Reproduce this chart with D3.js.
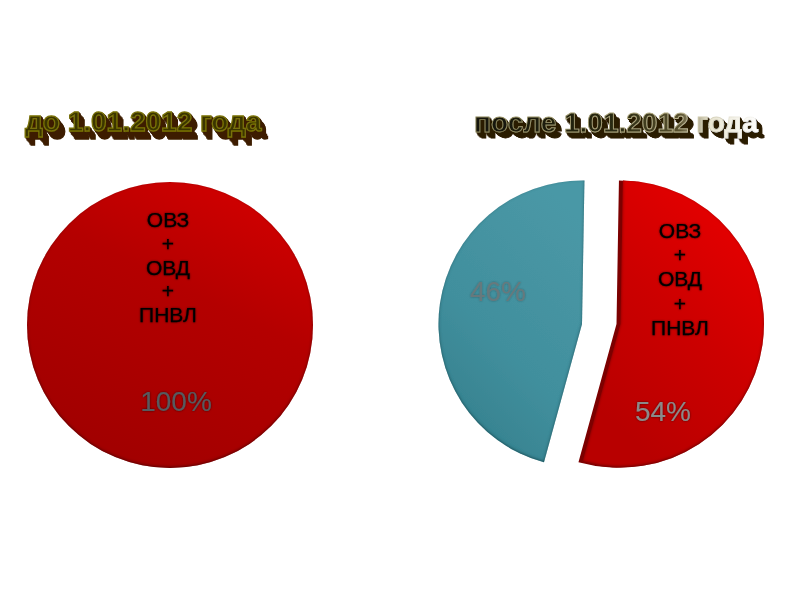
<!DOCTYPE html>
<html><head><meta charset="utf-8">
<script src="https://cdn.jsdelivr.net/npm/d3@7"></script>
<style>html,body{margin:0;background:#fff}svg{display:block}text{font-family:"Liberation Sans",Arial,sans-serif}</style>
</head><body><svg id="c" width="800" height="600"></svg>
<script>
const titles = ["до 1.01.2012 года", "после 1.01.2012 года"];
const leftValues = [100];
const rightValues = [54, 46];
const rightLabels = ["54%", "46%"];
const leftPercent = ["100%"];
const groupLines = ["ОВЗ", "+", "ОВД", "+", "ПНВЛ"];

const svg = d3.select("#c"), defs = svg.append("defs");
function lin(id, x1, y1, x2, y2, stops, user) {
  const g = defs.append("linearGradient").attr("id", id).attr("x1", x1).attr("y1", y1).attr("x2", x2).attr("y2", y2);
  if (user) g.attr("gradientUnits", "userSpaceOnUse");
  stops.forEach(s => g.append("stop").attr("offset", s[0]).attr("stop-color", s[1]));
}
lin("redL", 0.8, 0.05, 0.35, 0.95, [[0, "#d00000"], [0.4, "#b40000"], [1, "#a20000"]]);
lin("redR", 0.85, 0.1, 0.35, 0.95, [[0, "#e60000"], [0.5, "#cc0000"], [1, "#b80000"]]);
lin("teal", 0.8, 0.05, 0.3, 1, [[0, "#4a98a6"], [0.6, "#418f9d"], [1, "#35808d"]]);
lin("faceR", 474, 0, 760, 0, [[0, "#14140a"], [0.5, "#2a2a12"], [0.72, "#5a5230"], [0.82, "#e8e4d0"], [1, "#ffffff"]], true);
lin("rimR", 474, 0, 760, 0, [[0, "#8a8458"], [0.7, "#b8b088"], [1, "#ffffff"]], true);

function rimFilter(id, color, op) {
  const f = defs.append("filter").attr("id", id).attr("x", "-5%").attr("y", "-5%").attr("width", "110%").attr("height", "110%");
  f.append("feGaussianBlur").attr("in", "SourceAlpha").attr("stdDeviation", 1.8).attr("result", "b");
  f.append("feOffset").attr("in", "b").attr("dx", 0).attr("dy", -1.5).attr("result", "o");
  f.append("feComposite").attr("in", "SourceAlpha").attr("in2", "o").attr("operator", "out").attr("result", "edge");
  f.append("feFlood").attr("flood-color", color).attr("flood-opacity", op);
  f.append("feComposite").attr("in2", "edge").attr("operator", "in").attr("result", "shade");
  const m = f.append("feMerge");
  m.append("feMergeNode").attr("in", "SourceGraphic");
  m.append("feMergeNode").attr("in", "shade");
}
rimFilter("bevel", "#180000", 0.85);
rimFilter("bevelT", "#062830", 0.8);

function glowFilter(id, op) {
  const glow = defs.append("filter").attr("id", id).attr("x", "-30%").attr("y", "-30%").attr("width", "160%").attr("height", "160%");
  glow.append("feGaussianBlur").attr("in", "SourceAlpha").attr("stdDeviation", 1.3).attr("result", "b");
  glow.append("feFlood").attr("flood-color", "#000").attr("flood-opacity", op);
  glow.append("feComposite").attr("in2", "b").attr("operator", "in").attr("result", "s");
  const gm = glow.append("feMerge");
  gm.append("feMergeNode").attr("in", "s");
  gm.append("feMergeNode").attr("in", "SourceGraphic");
}
glowFilter("glow", 0.6);
glowFilter("glowSoft", 0.3);

function extrude(id, color, steps, sx, sy) {
  const f = defs.append("filter").attr("id", id).attr("x", "-5%").attr("y", "-20%").attr("width", "115%").attr("height", "160%");
  const m = [];
  d3.range(steps, 0, -1).forEach(k => {
    f.append("feOffset").attr("in", "SourceAlpha").attr("dx", k * sx).attr("dy", k * sy).attr("result", "e" + k);
    m.push("e" + k);
  });
  const mm = f.append("feMerge").attr("result", "all");
  m.forEach(n => mm.append("feMergeNode").attr("in", n));
  f.append("feFlood").attr("flood-color", color);
  f.append("feComposite").attr("in2", "all").attr("operator", "in").attr("result", "side");
  const top = f.append("feMerge");
  top.append("feMergeNode").attr("in", "side");
  top.append("feMergeNode").attr("in", "SourceGraphic");
}
extrude("exL", "#3c1e04", 8, 0.75, 1);
extrude("exR", "#2c1a04", 7, 0.8, 0.9);

const pie = d3.pie().sort(null);
const pieTilted = d3.pie().sort(null).startAngle(0.017).endAngle(2 * Math.PI + 0.017);
const arcL = d3.arc().innerRadius(0).outerRadius(143);
const arcR = d3.arc().innerRadius(0).outerRadius(143.5);

svg.append("g").attr("transform", "translate(170,325)")
  .selectAll("path").data(pie(leftValues)).join("path")
  .attr("d", arcL).attr("fill", "url(#redL)").attr("filter", "url(#bevel)");

const right = svg.append("g").attr("transform", "translate(600,324)");
const slices = pieTilted(rightValues);
const side = d => Math.sin((d.startAngle + d.endAngle) / 2) > 0 ? 1 : -1;
// dark flank of the exploded red slice
right.append("path").datum(slices[0]).attr("d", arcR).attr("fill", "#7c0000")
  .attr("transform", d => `translate(${16.5 * side(d)},0)`);
right.selectAll("path.face").data(slices).join("path").attr("class", "face")
  .attr("transform", d => `translate(${(side(d) > 0 ? 20.5 : 18) * side(d)},0)`)
  .attr("d", arcR).attr("fill", (d, i) => i === 0 ? "url(#redR)" : "url(#teal)")
  .attr("filter", (d, i) => i === 0 ? "url(#bevel)" : "url(#bevelT)");

function stack(x, y0, dy) {
  groupLines.forEach((t, i) => svg.append("text").text(t)
    .attr("x", x).attr("y", y0 + i * dy).attr("text-anchor", "middle")
    .attr("font-size", 21).attr("fill", "#000").attr("stroke", "#000").attr("stroke-width", 0.25)
    .attr("filter", "url(#glow)"));
}
stack(168, 227, 23.8);
stack(680, 238, 24.2);

function pct(t, x, y, fill, filter) {
  svg.append("text").text(t).attr("x", x).attr("y", y).attr("text-anchor", "middle")
    .attr("font-size", 28).attr("fill", fill).attr("filter", `url(#${filter})`);
}
pct(leftPercent[0], 176, 411, "#565a5e", "glow");
pct(rightLabels[0], 663, 421, "#8a8a8a", "glow");
pct(rightLabels[1], 498, 301, "#66797d", "glowSoft");

function title3d(t, x, y, face, rim, sw, ex) {
  svg.append("text").text(t).attr("x", x).attr("y", y)
    .attr("font-size", 28).attr("font-weight", "bold")
    .attr("fill", face).attr("stroke", rim).attr("stroke-width", sw)
    .attr("filter", `url(#${ex})`);
}
title3d(titles[0], 25, 131, "#3a3400", "#787008", 1.3, "exL");
title3d(titles[1], 474, 132, "url(#faceR)", "url(#rimR)", 0.9, "exR");
</script></body></html>
